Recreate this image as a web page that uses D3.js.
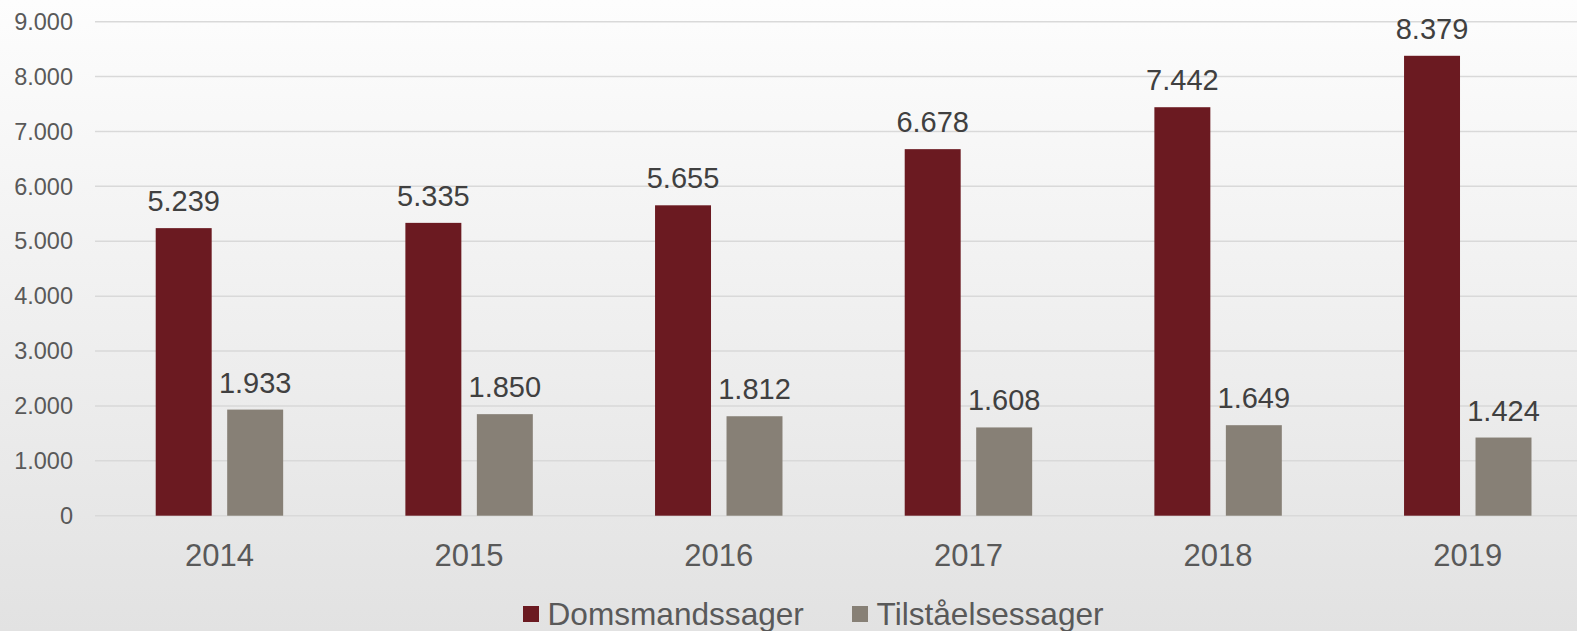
<!DOCTYPE html>
<html>
<head>
<meta charset="utf-8">
<script src="https://cdn.jsdelivr.net/npm/d3@7"></script>
<style>
  body { margin: 0; overflow: hidden; }
  svg { display: block; font-family: "Liberation Sans", Arial, sans-serif; }
</style>
</head>
<body>
<div id="chart"></div>
<script>
var years = ['2014', '2015', '2016', '2017', '2018', '2019'];
var seriesNames = ['Domsmandssager', 'Tilståelsessager'];
var domsmand = [5239, 5335, 5655, 6678, 7442, 8379];
var tilstaaelse = [1933, 1850, 1812, 1608, 1649, 1424];
var yTicks = [0, 1000, 2000, 3000, 4000, 5000, 6000, 7000, 8000, 9000];
var colors = ['#6b1a21', '#878076'];

var width = 1577,
    height = 631;

var fmt = function (v) {
    // danish thousands separator
    return d3.format(',')(v).replace(/,/g, '.');
};

var svg = d3.select('#chart').append('svg')
    .attr('width', width)
    .attr('height', height);

var grad = svg.append('defs').append('linearGradient')
    .attr('id', 'bg')
    .attr('x1', 0).attr('y1', 0)
    .attr('x2', 0).attr('y2', 1);
grad.append('stop').attr('offset', '0%').attr('stop-color', '#fdfdfd');
grad.append('stop').attr('offset', '100%').attr('stop-color', '#e2e2e2');

svg.append('rect')
    .attr('width', width)
    .attr('height', height)
    .attr('fill', 'url(#bg)');

var y = d3.scaleLinear().domain([0, 9000]).range([515.7, 21.7]);

var x0 = d3.scaleBand().domain(years).range([94.6, 1592.6]);

var x1 = d3.scaleBand().domain(seriesNames)
    .range([0, x0.bandwidth()])
    .paddingInner(0.217)
    .paddingOuter(0.855);

// gridlines
svg.append('g')
    .selectAll('line')
    .data(yTicks)
    .enter().append('line')
    .attr('x1', 95)
    .attr('x2', width)
    .attr('y1', function (d) { return y(d); })
    .attr('y2', function (d) { return y(d); })
    .attr('stroke', '#d9d9d9')
    .attr('stroke-width', 1.5);

// y tick labels
svg.append('g')
    .selectAll('text')
    .data(yTicks)
    .enter().append('text')
    .attr('x', 73)
    .attr('y', function (d) { return y(d); })
    .attr('dy', '0.35em')
    .attr('text-anchor', 'end')
    .attr('fill', '#595959')
    .style('font-size', '23.5px')
    .text(function (d) { return fmt(d); });

var rows = years.map(function (yr, i) {
    return { year: yr, values: [domsmand[i], tilstaaelse[i]] };
});

var group = svg.append('g')
    .selectAll('g')
    .data(rows)
    .enter().append('g')
    .attr('transform', function (d) { return 'translate(' + x0(d.year) + ',0)'; });

var bars = group.selectAll('g.bar')
    .data(function (d) {
        return d.values.map(function (v, j) { return { name: seriesNames[j], value: v, idx: j }; });
    })
    .enter().append('g')
    .attr('class', 'bar');

bars.append('rect')
    .attr('x', function (d) { return x1(d.name); })
    .attr('width', x1.bandwidth())
    .attr('y', function (d) { return y(d.value); })
    .attr('height', function (d) { return y(0) - y(d.value); })
    .attr('fill', function (d) { return colors[d.idx]; });

bars.append('text')
    .attr('x', function (d) { return x1(d.name) + x1.bandwidth() / 2; })
    .attr('y', function (d) { return y(d.value) - 17; })
    .attr('text-anchor', 'middle')
    .attr('fill', '#404040')
    .style('font-size', '29px')
    .text(function (d) { return fmt(d.value); });

// category labels
svg.append('g')
    .selectAll('text')
    .data(years)
    .enter().append('text')
    .attr('x', function (d) { return x0(d) + x0.bandwidth() / 2; })
    .attr('y', 565.7)
    .attr('text-anchor', 'middle')
    .attr('fill', '#595959')
    .style('font-size', '31px')
    .text(function (d) { return d; });

// legend
var legendX = [523, 852];
var legend = svg.append('g')
    .selectAll('g')
    .data(seriesNames)
    .enter().append('g')
    .attr('transform', function (d, i) { return 'translate(' + legendX[i] + ',0)'; });

legend.append('rect')
    .attr('x', 0)
    .attr('y', 606)
    .attr('width', 16)
    .attr('height', 16)
    .attr('fill', function (d, i) { return colors[i]; });

legend.append('text')
    .attr('x', 24.5)
    .attr('y', 624.5)
    .attr('fill', '#595959')
    .style('font-size', '31.6px')
    .text(function (d) { return d; });
</script>
</body>
</html>
